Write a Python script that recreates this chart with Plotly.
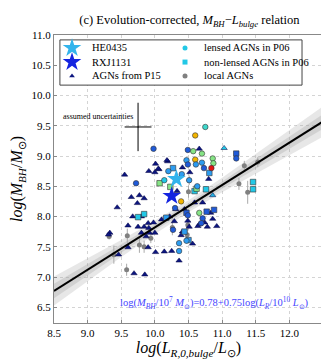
"""Evolution-corrected M_BH - L_bulge relation"""
import plotly.graph_objects as go

SERIF = "Liberation Serif"

# colours used for the redshift-coded P06 objects
COLORS = {
  "blue": "#1f5ad8",
  "ltblue": "#2c9cf0",
  "cyan": "#22c8e6",
  "teal": "#3ed8cc",
  "green": "#86e486",
  "orange": "#f2b400",
  "red": "#e41212",
}

# AGNs from P15 (triangles)
p15_L = [9.44, 9.55, 9.65, 9.77, 9.84, 9.74, 9.91, 10.00, 10.06, 10.19, 10.41, 10.52,
         10.66, 10.80, 10.86, 10.59, 10.71, 10.44, 10.31, 10.83, 10.86, 10.78, 10.66, 10.51,
         10.41, 10.49, 9.75, 9.84, 9.91, 9.33, 9.31, 9.46, 9.60, 9.69, 9.85, 9.80, 9.87,
         9.92, 10.00, 9.90, 10.01, 10.14, 10.25, 10.56, 10.39, 10.36, 9.60, 9.90, 9.98,
         10.29, 10.64, 10.74, 10.10, 10.22, 10.01, 10.18, 10.05, 9.67, 9.80, 10.33, 10.92,
         11.03]
p15_M = [8.15, 8.69, 8.32, 8.35, 8.30, 8.22, 8.75, 8.73, 8.78, 8.91, 8.81, 8.73,
         9.12, 8.62, 8.35, 8.23, 8.23, 8.12, 8.12, 8.06, 7.96, 7.83, 7.87, 7.83,
         7.75, 7.93, 7.83, 7.83, 7.81, 7.73, 7.70, 7.37, 7.49, 7.06, 7.04, 7.73, 7.67,
         7.73, 7.73, 7.49, 7.41, 7.42, 7.43, 7.55, 7.69, 7.27, 7.85, 7.89, 7.90,
         7.92, 7.84, 7.90, 7.95, 8.00, 8.87, 8.93, 8.79, 8.00, 8.00, 8.42, 7.84,
         9.13]
p15_c = ["#0c1680"] * 61 + ["#22c8e6"]
p15_c[14] = "#22b0e0"

# lensed AGNs in P06 (circles)
lens_L = [10.75, 10.60, 9.98, 10.49, 10.57, 10.70, 10.47, 10.60, 10.61, 10.49, 10.70,
          10.86, 10.87, 10.84, 10.73, 11.21, 9.72, 10.14, 10.39, 10.30, 10.49, 10.66,
          10.71, 10.69, 10.36, 10.36, 10.51, 10.63, 10.40, 10.27, 10.47, 10.20]
lens_M = [9.48, 9.34, 9.12, 9.10, 9.08, 9.04, 8.93, 8.94, 8.86, 8.86, 8.89,
          8.96, 8.88, 8.80, 8.80, 8.96, 8.55, 8.60, 8.25, 8.14, 8.02, 8.06,
          7.97, 7.89, 7.56, 7.43, 8.60, 8.50, 8.70, 7.78, 7.60, 8.75]
lens_c = ["teal", "orange", "blue", "blue", "green", "green", "ltblue", "orange", "ltblue",
          "blue", "ltblue", "green", "green", "red", "blue", "blue", "blue", "cyan",
          "orange", "blue", "blue", "green", "blue", "blue", "ltblue", "ltblue", "ltblue",
          "ltblue", "ltblue", "blue", "ltblue", "ltblue"]

# non-lensed AGNs in P06 (squares)
nonlens_L = [10.27, 10.07, 10.23, 9.84, 9.75, 10.17, 10.59, 10.62, 10.76, 10.81, 10.47,
             10.77, 10.88, 11.21, 11.46, 11.46, 10.44, 10.50]
nonlens_M = [8.80, 8.55, 8.49, 8.04, 7.99, 7.98, 8.42, 8.46, 8.45, 8.72, 8.06,
             8.08, 8.11, 9.04, 8.57, 8.45, 7.75, 7.61]
nonlens_c = ["ltblue", "green", "green", "cyan", "cyan", "ltblue", "cyan", "green", "cyan",
             "ltblue", "blue", "blue", "blue", "blue", "cyan", "cyan", "ltblue", "ltblue"]

# local AGNs (grey, with errors)
local_L = [10.51, 10.50, 11.33, 11.53, 11.25, 11.38, 10.26, 9.59, 9.39, 9.77, 9.84,
           9.94, 9.58, 10.48, 10.49, 9.32]
local_M = [8.60, 8.41, 8.84, 8.90, 8.54, 8.40, 7.82, 7.68, 7.37, 7.53, 7.50,
           7.64, 7.12, 7.70, 7.86, 7.67]
local_err = [0.08, 0.10, 0.08, 0.08, 0.10, 0.19, 0.13, 0.12, 0.15, 0.13, 0.10,
             0.08, 0.10, 0.08, 0.10, 0.05]

# the two lenses of this work
he0435 = (10.32, 8.62)
rxj1131 = (10.25, 8.34)

# best-fit relation and its scatter band
fit_L = [8.5, 12.5]
fit_M = [6.77, 9.57]
band_L = [8.5, 9.0, 9.5, 10.0, 10.5, 11.0, 11.5, 12.0, 12.5]
band_out_lo = [6.53, 6.93, 7.33, 7.71, 8.07, 8.40, 8.71, 9.01, 9.32]
band_out_hi = [7.01, 7.31, 7.61, 7.93, 8.27, 8.64, 9.03, 9.43, 9.82]
band_in_lo = [6.65, 7.03, 7.40, 7.77, 8.12, 8.46, 8.79, 9.12, 9.45]
band_in_hi = [6.89, 7.21, 7.54, 7.87, 8.22, 8.58, 8.95, 9.32, 9.69]

# assumed uncertainty cross
unc_L, unc_M = 9.75, 9.48
unc_dL, unc_dM = 0.2, 0.4

# legend entries, laid out in two columns of three rows
legend_names = ["HE0435", "RXJ1131", "AGNs from P15",
                "lensed AGNs in P06", "non-lensed AGNs in P06", "local AGNs"]
legend_symbols = ["star", "star", "triangle-up", "circle", "square", "circle"]
legend_colors = ["#33b4ec", "#1424e0", "#0c1680", COLORS["cyan"], COLORS["cyan"], "#808080"]
legend_sizes = [14, 14, 5, 5, 5, 5]

# the page body adds an 8px margin, the figure is sized to fit around it
FIG_W, FIG_H = 321, 351


def add_band(fig, lo, hi, color):
  fig.add_trace(go.Scatter(x=band_L, y=lo, mode="lines", line=dict(width=0),
                           showlegend=False, hoverinfo="skip"))
  fig.add_trace(go.Scatter(x=band_L, y=hi, mode="lines", line=dict(width=0),
                           fill="tonexty", fillcolor=color, showlegend=False,
                           hoverinfo="skip"))


def add_legend_box(fig):
  # legend drawn on an overlay axis spanning the plot area, range 0..1
  x0, x1, y0, y1 = 0.022, 0.922, 0.826, 0.983
  fig.add_trace(go.Scatter(
    x=[x0, x1, x1, x0, x0], y=[y0, y0, y1, y1, y0], xaxis="x2", yaxis="y2",
    mode="lines", fill="toself", fillcolor="white",
    line=dict(color="#444444", width=1), showlegend=False, hoverinfo="skip",
  ))
  col_x = [0.067, 0.487]
  text_x = [0.134, 0.550]
  row_y = [0.955, 0.906, 0.858]
  for i, name in enumerate(legend_names):
    col, row = divmod(i, 3)
    fig.add_trace(go.Scatter(
      x=[col_x[col]], y=[row_y[row]], xaxis="x2", yaxis="y2", mode="markers",
      showlegend=False, hoverinfo="skip",
      marker=dict(symbol=legend_symbols[i], color=legend_colors[i],
                  size=legend_sizes[i], opacity=1, line=dict(width=0)),
    ))
    fig.add_annotation(x=text_x[col], y=row_y[row], xref="x2", yref="y2",
                       xanchor="left", yanchor="middle", text=name, showarrow=False,
                       font=dict(family=SERIF, size=10.5, color="black"))


def main():
  fig = go.Figure()
  add_band(fig, band_out_lo, band_out_hi, "rgba(160,160,160,0.25)")
  add_band(fig, band_in_lo, band_in_hi, "rgba(160,160,160,0.30)")

  fig.add_trace(go.Scatter(
    x=local_L, y=local_M, mode="markers", name="local AGNs",
    marker=dict(color="#808080", size=5),
    error_y=dict(type="data", array=local_err, color="#aaaaaa", thickness=1, width=0),
  ))
  fig.add_trace(go.Scatter(
    x=p15_L, y=p15_M, mode="markers", name="AGNs from P15",
    marker=dict(symbol="triangle-up", color=p15_c, size=5.5,
                line=dict(color="#000040", width=0.5)),
  ))
  fig.add_trace(go.Scatter(
    x=nonlens_L, y=nonlens_M, mode="markers", name="non-lensed AGNs in P06",
    marker=dict(symbol="square", color=[COLORS[c] for c in nonlens_c], size=5.5,
                line=dict(color="#333333", width=0.6)),
  ))
  fig.add_trace(go.Scatter(
    x=lens_L, y=lens_M, mode="markers", name="lensed AGNs in P06",
    marker=dict(symbol="circle", color=[COLORS[c] for c in lens_c], size=5.5,
                line=dict(color="#333333", width=0.6)),
  ))

  fig.add_trace(go.Scatter(
    x=fit_L, y=fit_M, mode="lines", line=dict(color="black", width=2),
    hoverinfo="skip",
  ))

  fig.add_trace(go.Scatter(
    x=[he0435[0]], y=[he0435[1]], mode="markers", name="HE0435",
    marker=dict(symbol="star", color="#33b4ec", size=14, opacity=1, line=dict(width=0)),
  ))
  fig.add_trace(go.Scatter(
    x=[rxj1131[0]], y=[rxj1131[1]], mode="markers", name="RXJ1131",
    marker=dict(symbol="star", color="#1424e0", size=14, opacity=1, line=dict(width=0)),
  ))

  fig.add_trace(go.Scatter(
    x=[unc_L], y=[unc_M], mode="markers", marker=dict(size=1, color="black"),
    error_x=dict(type="constant", value=unc_dL, color="black", thickness=1, width=0),
    error_y=dict(type="constant", value=unc_dM, color="black", thickness=1, width=0),
    hoverinfo="skip",
  ))

  add_legend_box(fig)

  fig.add_annotation(x=8.6, y=9.65, xref="x", yref="y", xanchor="left",
                     text="assumed uncertainties", showarrow=False,
                     font=dict(family=SERIF, size=8, color="black"))
  fig.add_annotation(
    x=10.88, y=6.57, xref="x", yref="y", showarrow=False,
    text="log(<i>M</i><sub><i>BH</i></sub>/10<sup>7</sup> <i>M</i><sub>⊙</sub>)"
         "=0.78+0.75log(<i>L</i><sub><i>R</i></sub>/10<sup>10</sup> <i>L</i><sub>⊙</sub>)",
    font=dict(family=SERIF, size=10.5, color="#4646ff"),
  )

  axis_style = dict(
    showline=True, linecolor="#888888", linewidth=1, mirror=True,
    showgrid=True, gridcolor="#d4d4d4", griddash="dot", gridwidth=1,
    ticks="inside", ticklen=3, tickcolor="#888888", tickformat=".1f",
    tickfont=dict(family=SERIF, size=11, color="black"), zeroline=False,
  )
  fig.update_xaxes(range=[8.5, 12.5], dtick=0.5, tick0=8.5,
                   title=dict(text="<i>log</i>(<i>L</i><sub><i>R,0,bulge</i></sub>/<i>L</i><sub>⊙</sub>)",
                              font=dict(family=SERIF, size=16, color="black"), standoff=2),
                   **axis_style)
  fig.update_yaxes(range=[6.24, 11.0], dtick=0.5, tick0=6.5,
                   title=dict(text="<i>log</i>(<i>M</i><sub><i>BH</i></sub>/<i>M</i><sub>⊙</sub>)",
                              font=dict(family=SERIF, size=16, color="black"), standoff=4),
                   **axis_style)

  fig.update_layout(
    width=FIG_W, height=FIG_H,
    margin=dict(l=46, r=6, t=27, b=36, autoexpand=False),
    paper_bgcolor="white", plot_bgcolor="white",
    showlegend=False,
    xaxis2=dict(overlaying="x", range=[0, 1], visible=False, fixedrange=True),
    yaxis2=dict(overlaying="y", range=[0, 1], visible=False, fixedrange=True),
    title=dict(text="(c) Evolution-corrected, <i>M</i><sub><i>BH</i></sub>−<i>L</i><sub><i>bulge</i></sub> relation",
               x=0.565, xanchor="center", y=1 - 12 / FIG_H, yanchor="middle",
               font=dict(family=SERIF, size=12.5, color="black")),
  )

  fig.write_html("out.html")


if __name__ == "__main__":
  main()
